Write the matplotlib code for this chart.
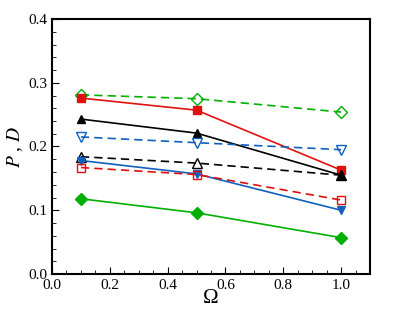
import matplotlib
matplotlib.use("Agg")
import matplotlib.pyplot as plt
from matplotlib.ticker import MultipleLocator

plt.rcParams['font.family'] = ['Liberation Serif', 'DejaVu Serif']
plt.rcParams['mathtext.fontset'] = 'stix'

omega = [0.1, 0.5, 1.0]
green_open = [0.281, 0.275, 0.254]
red_filled = [0.276, 0.257, 0.163]
black_filled = [0.243, 0.221, 0.155]
blue_open = [0.215, 0.206, 0.195]
black_open = [0.184, 0.174, 0.155]
blue_filled = [0.178, 0.157, 0.100]
red_open = [0.167, 0.156, 0.116]
green_filled = [0.118, 0.096, 0.057]

fig = plt.figure(figsize=(3.99, 3.10), dpi=100)
ax = fig.add_axes([52/399, 36/310, 318/399, 255/310])

G = '#00b000'; R = '#e01010'; K = 'black'; B = '#1060c0'
ms = 6
dash = (5, 3)
def dplot(y, c, m, filled, style, size):
    kw = dict(color=c, marker=m, mfc=c if filled else 'none', ms=size, lw=1.2)
    if style == '--':
        ax.plot(omega, y, ls='--', dashes=dash, **kw)
    else:
        ax.plot(omega, y, ls='-', **kw)

dplot(green_open, G, 'D', False, '--', ms)
dplot(red_filled, R, 's', True, '-', ms)
dplot(black_filled, K, '^', True, '-', ms)
dplot(blue_open, B, 'v', False, '--', ms + 1)
dplot(black_open, K, '^', False, '--', ms + 1)
dplot(blue_filled, B, 'v', True, '-', ms)
dplot(red_open, R, 's', False, '--', ms)
dplot(green_filled, G, 'D', True, '-', ms)

ax.set_xlim(0, 1.1)
ax.set_ylim(0, 0.4)
ax.xaxis.set_major_locator(MultipleLocator(0.2))
ax.xaxis.set_minor_locator(MultipleLocator(0.05))
ax.yaxis.set_major_locator(MultipleLocator(0.1))
ax.yaxis.set_minor_locator(MultipleLocator(0.02))
ax.xaxis.set_major_formatter(matplotlib.ticker.FormatStrFormatter('%.1f'))
ax.yaxis.set_major_formatter(matplotlib.ticker.FormatStrFormatter('%.1f'))
ax.tick_params(which='both', direction='in', top=False, right=False, labelsize=11)
ax.tick_params(which='major', length=5)
ax.tick_params(which='minor', length=3)
for s in ax.spines.values():
    s.set_linewidth(1.5)
ax.set_xlabel('Ω', fontsize=15, labelpad=-2)
ax.set_ylabel('$P$ , $D$', fontsize=14, labelpad=2)

fig.savefig('out.png', dpi=100)
